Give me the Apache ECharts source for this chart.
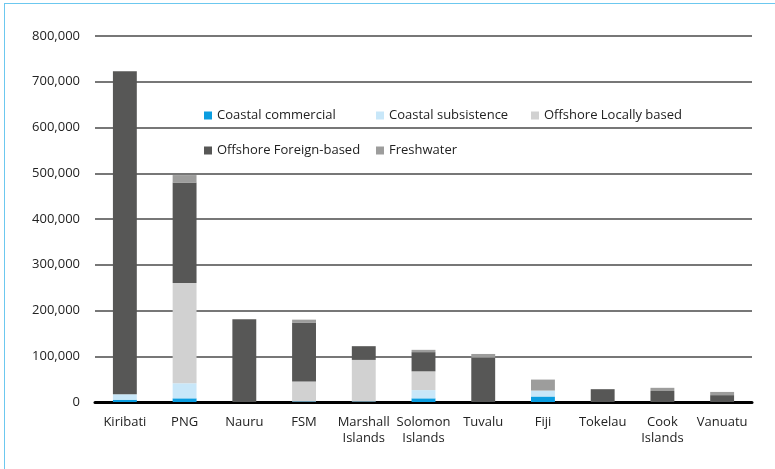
<!DOCTYPE html>
<html>
<head>
<meta charset="utf-8">
<script src="https://cdn.jsdelivr.net/npm/echarts@6/dist/echarts.min.js"></script>
<style>
  html, body { margin: 0; padding: 0; background: #fff; }
  #frame { position: absolute; left: 4px; top: 3px; width: 771px; height: 466px;
    border-left: 1.5px solid #6cc8ef; border-top: 1.5px solid #6cc8ef; box-sizing: border-box; }
  #chart { position: absolute; left: 0; top: 0; width: 775px; height: 469px; }
</style>
</head>
<body>
<div id="frame"></div>
<div id="chart"></div>
<script>
const categories = ["Kiribati", "PNG", "Nauru", "FSM", "Marshall\nIslands", "Solomon\nIslands",
  "Tuvalu", "Fiji", "Tokelau", "Cook\nIslands", "Vanuatu"];
const coastalCommercial = [5000, 8000, 0, 1000, 1000, 8000, 0, 12000, 0, 0, 0];
const coastalSubsistence = [12000, 33000, 0, 1000, 0, 18000, 0, 13000, 0, 0, 0];
const offshoreLocal = [0, 219000, 0, 43000, 91000, 41000, 0, 0, 0, 0, 0];
const offshoreForeign = [706000, 219000, 181000, 129000, 30000, 42000, 97000, 0, 28000, 24000, 15000];
const freshwater = [0, 17000, 0, 6000, 0, 5000, 8000, 24000, 0, 7000, 7000];
const yTicks = [0, 100000, 200000, 300000, 400000, 500000, 600000, 700000, 800000];

const seriesDefs = [
  { name: "Coastal commercial", data: coastalCommercial, color: "#0a9de0" },
  { name: "Coastal subsistence", data: coastalSubsistence, color: "#c8e7f9" },
  { name: "Offshore Locally based", data: offshoreLocal, color: "#d1d1d1" },
  { name: "Offshore Foreign-based", data: offshoreForeign, color: "#575756" },
  { name: "Freshwater", data: freshwater, color: "#9d9d9c" }
];

const legendPos = [
  { left: 199, top: 104 },
  { left: 371, top: 104 },
  { left: 526, top: 104 },
  { left: 199, top: 139 },
  { left: 371, top: 139 }
];

const font = "'Open Sans', 'Noto Sans', sans-serif";
const chart = echarts.init(document.getElementById("chart"));

chart.setOption({
  animation: false,
  backgroundColor: "transparent",
  textStyle: { fontFamily: font },
  grid: { left: 95, right: 23, top: 36, bottom: 67 },
  legend: seriesDefs.map((s, i) => ({
    data: [s.name],
    left: legendPos[i].left,
    top: legendPos[i].top,
    icon: "rect",
    itemWidth: 8,
    itemHeight: 8,
    itemGap: 6,
    textStyle: { color: "#222", fontSize: 13, fontFamily: font }
  })),
  xAxis: {
    type: "category",
    data: categories,
    axisLine: { lineStyle: { color: "#000", width: 3 } },
    axisTick: { show: false },
    axisLabel: { color: "#222", fontSize: 13, margin: 12, lineHeight: 16, interval: 0 }
  },
  yAxis: {
    type: "value",
    min: yTicks[0],
    max: yTicks[yTicks.length - 1],
    interval: yTicks[1] - yTicks[0],
    axisLine: { show: false },
    axisTick: { show: false },
    splitLine: { lineStyle: { color: "#4a4a4a", width: 1.5 } },
    axisLabel: {
      color: "#222",
      fontSize: 13,
      margin: 15,
      formatter: v => v.toLocaleString("en-US")
    }
  },
  series: seriesDefs.map(s => ({
    name: s.name,
    type: "bar",
    stack: "total",
    barWidth: "40%",
    data: s.data,
    itemStyle: { color: s.color }
  }))
});
</script>
</body>
</html>
